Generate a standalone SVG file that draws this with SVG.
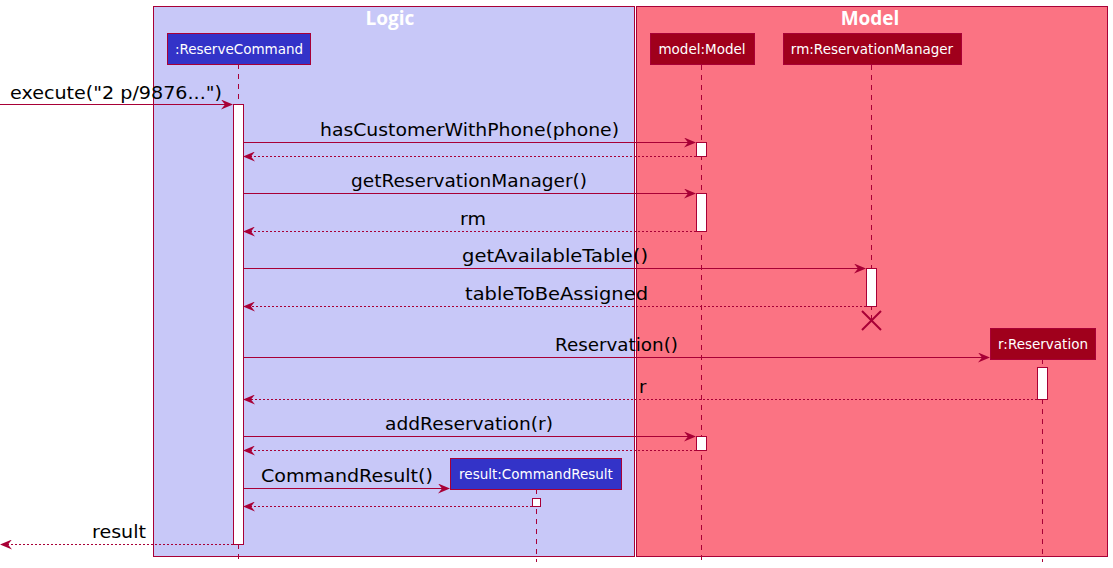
<svg xmlns="http://www.w3.org/2000/svg" width="1113" height="568" viewBox="0 0 1113 568">
<defs>
<style>
.box{stroke:#A80036;stroke-width:1}
.title{font-family:"Open Sans","DejaVu Sans",sans-serif;font-weight:bold;font-size:19px;fill:#FFFFFF;text-anchor:middle}
.plab{font-family:"DejaVu Sans","Liberation Sans",sans-serif;font-size:13.5px;fill:#FFFFFF;text-anchor:middle}
.msg{font-family:"DejaVu Sans","Liberation Sans",sans-serif;font-size:18px;fill:#000000}
.life{stroke:#A80036;stroke-width:1;stroke-dasharray:5,5;fill:none}
.act{fill:#FFFFFF;stroke:#A80036;stroke-width:1}
.call{stroke:#A80036;stroke-width:1;fill:none;marker-end:url(#ah)}
.ret{stroke:#A80036;stroke-width:1;stroke-dasharray:2,2;fill:none;marker-end:url(#ah)}
</style>
<marker id="ah" viewBox="0 0 12 10" refX="11" refY="5" markerWidth="12" markerHeight="10" markerUnits="userSpaceOnUse" orient="auto">
<path d="M0,0 L12,5 L0,10 L4,5 Z" fill="#A80036"/>
</marker>
</defs>
<rect width="1113" height="568" fill="#FFFFFF"/>
<g id="box-logic">
<rect x="153.5" y="6.5" width="481" height="550" fill="#C8C8F8" class="box"/>
<text x="390" y="25" class="title">Logic</text>
</g>
<g id="box-model">
<rect x="636.5" y="6.5" width="471" height="550" fill="#FB7383" class="box"/>
<text x="870" y="25" class="title">Model</text>
</g>
<g id="lifelines">
<line x1="238.5" y1="64" x2="238.5" y2="562" class="life"/>
<line x1="701.5" y1="65" x2="701.5" y2="562" class="life"/>
<line x1="871.5" y1="65" x2="871.5" y2="320" class="life"/>
<line x1="1042.5" y1="359" x2="1042.5" y2="562" class="life"/>
<line x1="536.5" y1="489" x2="536.5" y2="562" class="life"/>
</g>
<g id="reserveCommand">
<rect x="167.5" y="33.5" width="143" height="31" fill="#3333C8" class="box"/>
<text x="239" y="54" class="plab">:ReserveCommand</text>
</g>
<g id="model">
<rect x="650.5" y="33.5" width="104" height="31" fill="#A0001C" class="box"/>
<text x="702" y="54" class="plab">model:Model</text>
</g>
<g id="rm">
<rect x="783.5" y="33.5" width="178" height="31" fill="#A0001C" class="box"/>
<text x="872" y="54" class="plab">rm:ReservationManager</text>
</g>
<g id="reservation">
<rect x="990.5" y="328.5" width="105" height="31" fill="#A0001C" class="box"/>
<text x="1043" y="349" class="plab">r:Reservation</text>
</g>
<g id="commandResult">
<rect x="450.5" y="458.5" width="171" height="31" fill="#3333C8" class="box"/>
<text x="536" y="479" class="plab">result:CommandResult</text>
</g>
<g id="activations">
<rect x="233.5" y="104.5" width="10" height="440" class="act"/>
<rect x="696.5" y="142.5" width="10" height="14" class="act"/>
<rect x="696.5" y="193.5" width="10" height="38" class="act"/>
<rect x="866.5" y="268.5" width="10" height="38" class="act"/>
<rect x="1037.5" y="367.5" width="10" height="32" class="act"/>
<rect x="696.5" y="436.5" width="10" height="14" class="act"/>
<rect x="532.5" y="498.5" width="8" height="8" class="act"/>
</g>
<g id="destroy">
<path d="M862,311 L881,330 M881,311 L862,330" stroke="#A80036" stroke-width="2" fill="none"/>
</g>
<g id="connectors">
<line x1="0" y1="104.5" x2="232" y2="104.5" class="call"/>
<line x1="243.5" y1="142.5" x2="695" y2="142.5" class="call"/>
<line x1="696" y1="156.5" x2="244" y2="156.5" class="ret"/>
<line x1="243.5" y1="193.5" x2="695" y2="193.5" class="call"/>
<line x1="696" y1="231.5" x2="244" y2="231.5" class="ret"/>
<line x1="243.5" y1="268.5" x2="865" y2="268.5" class="call"/>
<line x1="866" y1="306.5" x2="244" y2="306.5" class="ret"/>
<line x1="243.5" y1="357.5" x2="989" y2="357.5" class="call"/>
<line x1="1037" y1="399.5" x2="244" y2="399.5" class="ret"/>
<line x1="243.5" y1="436.5" x2="695" y2="436.5" class="call"/>
<line x1="696" y1="450.5" x2="244" y2="450.5" class="ret"/>
<line x1="243.5" y1="488.5" x2="449" y2="488.5" class="call"/>
<line x1="532" y1="506.5" x2="244" y2="506.5" class="ret"/>
<line x1="233" y1="544.5" x2="1" y2="544.5" class="ret"/>
</g>
<g id="labels">
<text x="10" y="99" class="msg" textLength="212" lengthAdjust="spacingAndGlyphs">execute("2 p/9876...")</text>
<text x="320" y="136" class="msg" textLength="299" lengthAdjust="spacingAndGlyphs">hasCustomerWithPhone(phone)</text>
<text x="351" y="187" class="msg" textLength="236" lengthAdjust="spacingAndGlyphs">getReservationManager()</text>
<text x="460" y="225" class="msg" textLength="26" lengthAdjust="spacingAndGlyphs">rm</text>
<text x="462" y="262" class="msg" textLength="186" lengthAdjust="spacingAndGlyphs">getAvailableTable()</text>
<text x="465" y="300" class="msg" textLength="183" lengthAdjust="spacingAndGlyphs">tableToBeAssigned</text>
<text x="555" y="351" class="msg" textLength="123" lengthAdjust="spacingAndGlyphs">Reservation()</text>
<text x="639" y="393" class="msg">r</text>
<text x="385" y="430" class="msg" textLength="168" lengthAdjust="spacingAndGlyphs">addReservation(r)</text>
<text x="261" y="482" class="msg" textLength="172" lengthAdjust="spacingAndGlyphs">CommandResult()</text>
<text x="92" y="538" class="msg" textLength="54" lengthAdjust="spacingAndGlyphs">result</text>
</g>
</svg>
